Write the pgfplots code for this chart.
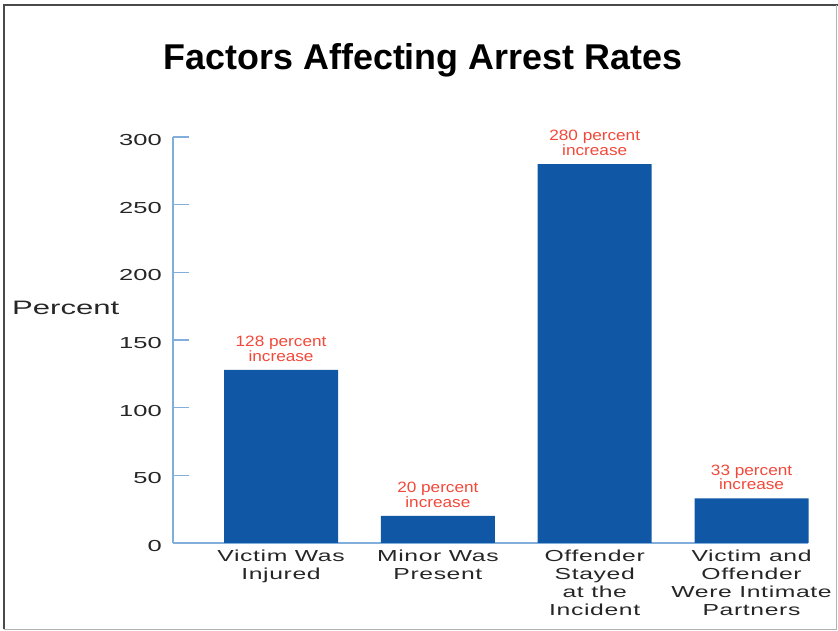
\documentclass[border=0pt]{standalone}
\usepackage{fontspec}
\setmainfont{Liberation Sans}
\newfontfamily\widefont[FakeStretch=1.6]{Liberation Sans}
\newfontfamily\catfont[FakeStretch=1.55,LetterSpace=4]{Liberation Sans}
\newfontfamily\redfont[FakeStretch=1.15]{Liberation Sans}
\usepackage{pgfplots}
\pgfplotsset{compat=1.18}
\definecolor{barblue}{HTML}{1058A6}
\definecolor{axisblue}{HTML}{82AEDB}
\definecolor{labelred}{HTML}{F2483A}
\definecolor{framegray}{HTML}{4A4A4A}
\begin{document}
\begin{tikzpicture}[x=1bp,y=1bp]
\useasboundingbox (0,0) rectangle (838,631);
\draw[framegray, line width=2bp] (4,2) -- (4,626) -- (838,626);
\draw[gray!60, line width=1bp] (4,1.5) -- (836.5,1.5) -- (836.5,626);
\node[anchor=base, font=\bfseries\fontsize{36}{40}\selectfont] at (423,561) {Factors Affecting Arrest Rates};
\node[anchor=base west, inner sep=0pt, font=\widefont\fontsize{19.5}{22}\selectfont, text=black!85] at (12,316) {Percent};
\begin{axis}[
  at={(173bp,88bp)}, anchor=south west,
  scale only axis,
  width=635bp, height=406bp,
  xmin=-0.689, xmax=3.36,
  ymin=0, ymax=300,
  axis x line=bottom, axis y line=left,
  axis line style={axisblue, line width=1.2bp, -},
  ytick={0,50,100,150,200,250,300},
  tick align=inside,
  major tick length=16bp,
  y tick style={axisblue, line width=1.2bp},
  x tick style={draw=none},
  xtick={0,1,2,3},
  xticklabels={{Victim Was\\Injured},{Minor Was\\Present},{Offender\\Stayed\\at the\\Incident},{Victim and\\Offender\\Were Intimate\\Partners}},
  yticklabel style={font=\widefont\fontsize{16}{18}\selectfont, text=black!85, anchor=east, inner sep=0pt, xshift=-11bp, yshift=-3bp},
  xticklabel style={font=\catfont\fontsize{16}{18}\selectfont, text=black!85, align=center, anchor=north, inner sep=0pt, yshift=-7bp},
  /pgf/number format/assume math mode=true,
  clip=false,
]
\addplot[ybar, bar width=114bp, fill=barblue, draw=none,
  point meta=y,
  nodes near coords={\pgfmathprintnumber{\pgfplotspointmeta} percent\\increase},
  every node near coord/.append style={align=center, anchor=south, inner sep=0pt, yshift=8bp, text=labelred, font=\redfont\fontsize{15}{15}\selectfont},
] coordinates {(0,128) (1,20) (2,280) (3,33)};
\end{axis}
\end{tikzpicture}
\end{document}
